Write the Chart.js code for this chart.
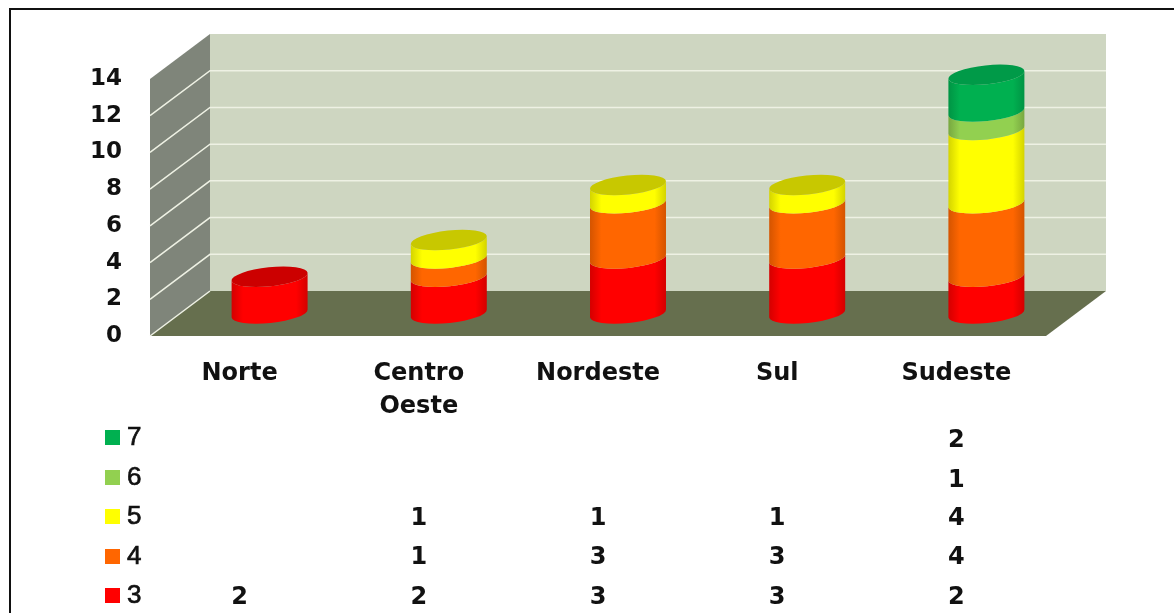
<!DOCTYPE html>
<html>
<head>
<meta charset="utf-8">
<script src="https://cdn.jsdelivr.net/npm/chart.js@4"></script>
<style>
  html, body { margin: 0; padding: 0; background: #fff; overflow: hidden; }
  #frame { position: absolute; left: 9px; top: 8px; width: 1170px; height: 640px; border-left: 2px solid #111; border-top: 2px solid #111; }
  #chart { position: absolute; left: 0; top: 0; }
</style>
</head>
<body>
<canvas id="chart" width="1174" height="613"></canvas>
<div id="frame"></div>
<script>
const regions = [["Norte"], ["Centro", "Oeste"], ["Nordeste"], ["Sul"], ["Sudeste"]];
const yTicks = [0, 2, 4, 6, 8, 10, 12, 14];

const level3 = [2, 2, 3, 3, 2];
const level4 = [null, 1, 3, 3, 4];
const level5 = [null, 1, 1, 1, 4];
const level6 = [null, null, null, null, 1];
const level7 = [null, null, null, null, 2];

const seriesNames = ["3", "4", "5", "6", "7"];
const seriesValues = [level3, level4, level5, level6, level7];
const sideColors = ["#ff0000", "#ff6600", "#ffff00", "#92d050", "#00b050"];
const capColors = ["#cc0000", "#cc5200", "#c8c800", "#75a640", "#009a48"];
const edgeColors = ["#d40000", "#d45400", "#d4d400", "#78a840", "#009444"];

// depth of the fake 3D box, px
const DEPTH_X = 60, DEPTH_Y = 45;
const TILT = -0.105, CAP_RY = 9.5;
const FONT = "'DejaVu Sans', sans-serif";

function poly(ctx, pts, color) {
  ctx.beginPath();
  pts.forEach(([x, y], i) => (i ? ctx.lineTo(x, y) : ctx.moveTo(x, y)));
  ctx.closePath();
  ctx.fillStyle = color;
  ctx.fill();
}

function drawBox(chart) {
  const { ctx, chartArea: a, scales } = chart;
  const bx = a.left + DEPTH_X, ex = a.right + DEPTH_X;
  ctx.save();
  poly(ctx, [[a.left, a.bottom], [bx, a.bottom - DEPTH_Y], [bx, a.top - DEPTH_Y], [a.left, a.top]], "#7f857a");
  poly(ctx, [[bx, a.top - DEPTH_Y], [ex, a.top - DEPTH_Y], [ex, a.bottom - DEPTH_Y], [bx, a.bottom - DEPTH_Y]], "#ced6c1");
  poly(ctx, [[a.left, a.bottom], [bx, a.bottom - DEPTH_Y], [ex, a.bottom - DEPTH_Y], [a.right, a.bottom]], "#666f4e");
  // grid runs along the side wall and the back wall
  ctx.strokeStyle = "#eef1e4";
  ctx.lineWidth = 1.5;
  scales.y.ticks.forEach((t) => {
    if (t.value === 14) return;
    const y = scales.y.getPixelForValue(t.value);
    ctx.beginPath();
    ctx.moveTo(a.left, y);
    ctx.lineTo(bx, y - DEPTH_Y);
    if (t.value !== 0) ctx.lineTo(ex, y - DEPTH_Y);
    ctx.stroke();
  });
  ctx.restore();
}

function drawCylinders(chart) {
  const { ctx } = chart;
  const tops = {};
  seriesValues.forEach((values, d) => {
    chart.getDatasetMeta(d).data.forEach((bar, i) => {
      if (values[i] == null) return;
      const cx = bar.x + DEPTH_X / 2;
      const top = bar.y - DEPTH_Y / 2, base = bar.base - DEPTH_Y / 2;
      const hw = bar.width / 2, rx = hw / Math.cos(TILT);
      const grad = ctx.createLinearGradient(cx - hw, 0, cx + hw, 0);
      grad.addColorStop(0, edgeColors[d]);
      grad.addColorStop(0.15, sideColors[d]);
      grad.addColorStop(0.85, sideColors[d]);
      grad.addColorStop(1, edgeColors[d]);
      ctx.beginPath();
      ctx.ellipse(cx, base, rx, CAP_RY, TILT, Math.PI, 0, true);
      ctx.ellipse(cx, top, rx, CAP_RY, TILT, 0, Math.PI, false);
      ctx.closePath();
      ctx.fillStyle = grad;
      ctx.fill();
      tops[i] = { cx, top, rx, d };
    });
  });
  Object.values(tops).forEach(({ cx, top, rx, d }) => {
    ctx.beginPath();
    ctx.ellipse(cx, top, rx, CAP_RY, TILT, 0, Math.PI * 2);
    ctx.fillStyle = capColors[d];
    ctx.fill();
  });
}

// legend keys and values under the chart
function drawTable(chart) {
  const { ctx, scales } = chart;
  const rowY = { 7: 441, 6: 481, 5: 519, 4: 558, 3: 598 };
  const keyY = { 7: 438, 6: 478, 5: 517, 4: 557, 3: 596 };
  ctx.save();
  ctx.textBaseline = "middle";
  seriesNames.forEach((name, d) => {
    const y = rowY[name];
    ctx.fillStyle = sideColors[d];
    ctx.fillRect(105, keyY[name] - 8, 15, 15);
    ctx.fillStyle = "#111";
    ctx.strokeStyle = "#111";
    ctx.lineWidth = 0.7;
    ctx.textAlign = "left";
    ctx.font = "400 26px 'Liberation Sans', sans-serif";
    ctx.fillText(name, 127, keyY[name]);
    ctx.strokeText(name, 127, keyY[name]);
    ctx.textAlign = "center";
    ctx.font = "700 24px " + FONT;
    seriesValues[d].forEach((v, i) => {
      if (v != null) ctx.fillText(String(v), scales.x.getPixelForValue(i), y);
    });
  });
  ctx.restore();
}

const box3d = {
  id: "box3d",
  beforeDatasetsDraw(chart) {
    drawBox(chart);
  },
  // the flat bars are replaced by the cylinders, same elements and scales
  beforeDatasetDraw() {
    return false;
  },
  afterDatasetsDraw(chart) {
    drawCylinders(chart);
  },
  afterDraw(chart) {
    drawTable(chart);
  },
};

new Chart(document.getElementById("chart"), {
  type: "bar",
  data: {
    labels: regions,
    datasets: seriesNames.map((name, d) => ({
      label: name,
      data: seriesValues[d],
      backgroundColor: sideColors[d],
      barPercentage: 0.424,
      categoryPercentage: 1,
    })),
  },
  options: {
    responsive: false,
    animation: false,
    layout: { padding: { left: 0, right: 128, top: 79, bottom: 0 } },
    plugins: { legend: { display: false }, tooltip: { enabled: false } },
    scales: {
      x: {
        stacked: true,
        grid: { display: false },
        border: { display: false },
        afterFit: (s) => { s.height = 277; },
        ticks: {
          padding: 13,
          maxRotation: 0,
          autoSkip: false,
          color: "#111",
          font: { family: FONT, weight: "700", size: 24, lineHeight: 1.38 },
        },
      },
      y: {
        stacked: true,
        min: yTicks[0],
        max: yTicks[yTicks.length - 1],
        grid: { display: false },
        border: { display: false },
        afterFit: (s) => { s.width = 150; },
        afterBuildTicks: (s) => { s.ticks = yTicks.map((value) => ({ value })); },
        ticks: {
          padding: 20,
          color: "#111",
          font: { family: FONT, weight: "700", size: 23 },
        },
      },
    },
  },
  plugins: [box3d],
});
</script>
</body>
</html>
